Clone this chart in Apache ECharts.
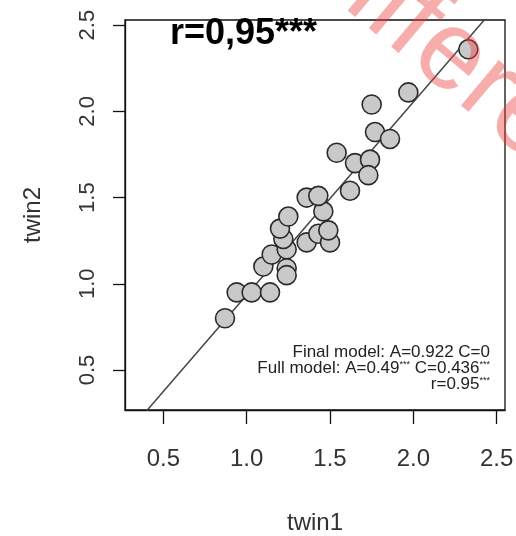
<!DOCTYPE html>
<html>
<head>
<meta charset="utf-8">
<script src="https://cdn.jsdelivr.net/npm/echarts@6/dist/echarts.min.js"></script>
<style>
html,body{margin:0;padding:0;background:#fff;}
#chart{width:516px;height:536px;}
</style>
</head>
<body>
<div id="chart"></div>
<script>
// ---- data ----
const twin1 = [0.87, 0.94, 1.03, 1.14, 1.10, 1.15, 1.24, 1.24, 1.24, 1.22, 1.20, 1.25, 1.36, 1.43, 1.50, 1.49, 1.46, 1.36, 1.43, 1.62, 1.54, 1.65, 1.74, 1.73, 1.77, 1.86, 1.75, 1.97, 2.33];
const twin2 = [0.80, 0.95, 0.95, 0.95, 1.10, 1.17, 1.09, 1.05, 1.20, 1.26, 1.32, 1.39, 1.24, 1.29, 1.24, 1.31, 1.42, 1.50, 1.51, 1.54, 1.76, 1.70, 1.72, 1.63, 1.88, 1.84, 2.04, 2.11, 2.36];
const xTicks = [0.5, 1.0, 1.5, 2.0, 2.5];
const yTicks = [0.5, 1.0, 1.5, 2.0, 2.5];
const fitIntercept = -0.184;
const fitSlope = 1.119;
const titleText = 'r=0,95***';
const annotationLines = ['Final model: A=0.922 C=0', 'Full model: A=0.49{s|***} C=0.436{s|***}', 'r=0.95{s|***}'];
const watermarkText = 'Different';

const xMin = 0.27, xMax = 2.55, yMin = 0.268, yMax = 2.53;
const points = twin1.map((v, i) => [v, twin2[i]]);
const fitData = [xMin, xMax].map(x => [x, fitIntercept + fitSlope * x]);

const FONT = '"Liberation Sans", Arial, Helvetica, sans-serif';
const chart = echarts.init(document.getElementById('chart'), null, {renderer: 'canvas'});

const option = {
  backgroundColor: '#fff',
  animation: false,
  title: {
    text: titleText,
    left: 170, top: 16, padding: 0,
    textStyle: {fontSize: 36, fontWeight: 'bold', color: '#000', fontFamily: FONT}
  },
  grid: {left: 125, right: 11, top: 20, bottom: 126, outerBoundsMode: 'none', containLabel: false, show: true, borderColor: '#111', borderWidth: 1.3, backgroundColor: 'transparent'},
  xAxis: {
    type: 'value', min: xMin, max: xMax,
    name: 'twin1', nameLocation: 'middle', nameGap: 101,
    nameTextStyle: {fontSize: 24, color: '#333', fontFamily: FONT},
    axisLine: {show: true, lineStyle: {color: '#111', width: 1.3}},
    axisTick: {show: true, length: 14, customValues: xTicks, lineStyle: {color: '#111', width: 1.3}},
    axisLabel: {customValues: xTicks, margin: 37, fontSize: 24, color: '#333', fontFamily: FONT, formatter: v => v.toFixed(1)},
    splitLine: {show: false}
  },
  yAxis: {
    type: 'value', min: yMin, max: yMax,
    name: 'twin2', nameLocation: 'middle', nameGap: 80, nameRotate: 90,
    nameTextStyle: {fontSize: 24, color: '#333', fontFamily: FONT},
    axisLine: {show: true, lineStyle: {color: '#111', width: 1.3}},
    axisTick: {show: true, length: 12, customValues: yTicks, lineStyle: {color: '#111', width: 1.3}},
    axisLabel: {customValues: yTicks, rotate: 90, margin: 26, fontSize: 22, color: '#333', fontFamily: FONT, formatter: v => v.toFixed(1)},
    splitLine: {show: false}
  },
  series: [
    {
      type: 'line', data: fitData, showSymbol: false, symbol: 'none', clip: true,
      lineStyle: {color: '#444', width: 1.5}, z: 2, silent: true
    },
    {
      type: 'scatter', data: points, symbol: 'circle', symbolSize: 19,
      itemStyle: {color: '#c9c9c9', borderColor: '#2a2a2a', borderWidth: 1.6, opacity: 1}, z: 3
    }
  ],
  graphic: [
    {
      type: 'text', x: 490, y: 344, z: 10,
      style: {
        text: annotationLines.join('\n'), align: 'right', verticalAlign: 'top', fill: '#222',
        font: '17px ' + FONT, lineHeight: 16,
        rich: {s: {fontSize: 9, verticalAlign: 'top', lineHeight: 16, fill: '#222', align: 'right'}}
      }
    },
    {
      type: 'text', x: 300, y: -70, rotation: -40 * Math.PI / 180, z: 20, silent: true,
      style: {text: watermarkText, fill: 'rgba(238,60,60,0.42)', font: '112px ' + FONT, align: 'left', verticalAlign: 'middle'}
    }
  ]
};
chart.setOption(option);
</script>
</body>
</html>
